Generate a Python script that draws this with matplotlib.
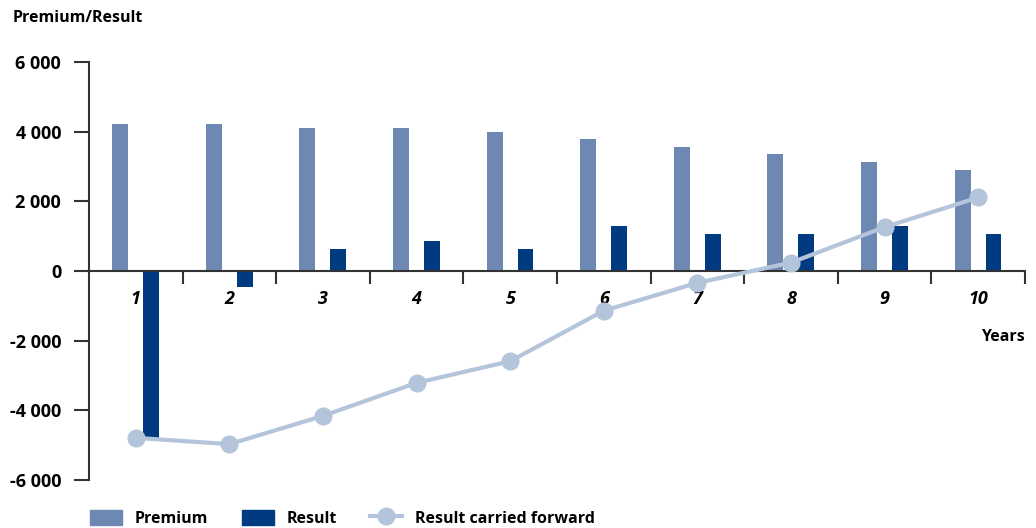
import numpy as np
import matplotlib.pyplot as plt
from matplotlib.patches import Patch
from matplotlib.lines import Line2D
import matplotlib.ticker as mtick

years = [1, 2, 3, 4, 5, 6, 7, 8, 9, 10]
premium = [4220, 4220, 4100, 4100, 3990, 3790, 3560, 3360, 3130, 2900]
result = [-4800, -450, 630, 860, 630, 1290, 1060, 1060, 1290, 1060]
carried = [-4790, -4970, -4160, -3210, -2590, -1140, -340, 240, 1260, 2110]
yticks = [-6000, -4000, -2000, 0, 2000, 4000, 6000]

c_prem = "#6d89b3"
c_res = "#003a80"
c_line = "#b4c5db"
c_axis = "#333333"
fontsize = 13
weight = "bold"

plt.rcParams['font.family'] = ['Open Sans', 'DejaVu Sans']

fig = plt.figure(figsize=(10.36, 5.28), dpi=100)
ax = fig.add_axes([0.0859, 0.0909, 0.9035, 0.7917])

x = np.array(years)
w = 0.17
ax.bar(x - 0.167, premium, width=w, color=c_prem, zorder=2)
ax.bar(x + 0.163, result, width=w, color=c_res, zorder=2)
ax.plot(x, carried, color=c_line, lw=3, marker="o", ms=12, zorder=3,
        solid_capstyle="butt")

ax.set_xlim(0.5, 10.5)
ax.set_ylim(-6000, 6000)

for s in ["top", "right"]:
    ax.spines[s].set_visible(False)
ax.spines["left"].set_color(c_axis)
ax.spines["left"].set_linewidth(1.5)
ax.spines["bottom"].set_position(("data", 0))
ax.spines["bottom"].set_color(c_axis)
ax.spines["bottom"].set_linewidth(1.5)

ax.set_yticks(yticks)
ax.yaxis.set_major_formatter(mtick.FuncFormatter(
    lambda v, p: f"{int(v):,}".replace(",", " ")))
ax.tick_params(axis="y", direction="out", length=11, width=1.5,
               color=c_axis, pad=9, labelsize=fontsize)
for t in ax.get_yticklabels():
    t.set_fontweight(weight)

# category separators as major ticks, year labels as minor ticks
ax.set_xticks(np.arange(1.5, 11, 1))
ax.xaxis.set_major_formatter(mtick.NullFormatter())
ax.set_xticks(x, minor=True)
ax.set_xticklabels([str(y) for y in years], minor=True)
ax.tick_params(axis="x", which="major", direction="out", length=9,
               width=1.5, color=c_axis)
ax.tick_params(axis="x", which="minor", length=0, pad=14, labelsize=fontsize)
for t in ax.get_xticklabels(minor=True):
    t.set_fontstyle("italic")
    t.set_fontweight(weight)

fig.text(0.012, 0.965, "Premium/Result", fontsize=11.5, fontweight=weight,
         va="center", ha="left")
fig.text(0.989, 0.362, "Years", fontsize=11.5, fontweight=weight,
         va="center", ha="right")

handles = [
    Patch(color=c_prem, label="Premium"),
    Patch(color=c_res, label="Result"),
    Line2D([], [], color=c_line, lw=3, marker="o", ms=12, label="Result carried forward"),
]
fig.legend(handles=handles, loc="lower left", bbox_to_anchor=(0.073, -0.025),
           ncol=3, frameon=False, handlelength=2.0,
           handleheight=1.1, handletextpad=0.8, columnspacing=2.1,
           prop={"weight": weight, "size": 11.5})

fig.savefig("out.png", dpi=100)
